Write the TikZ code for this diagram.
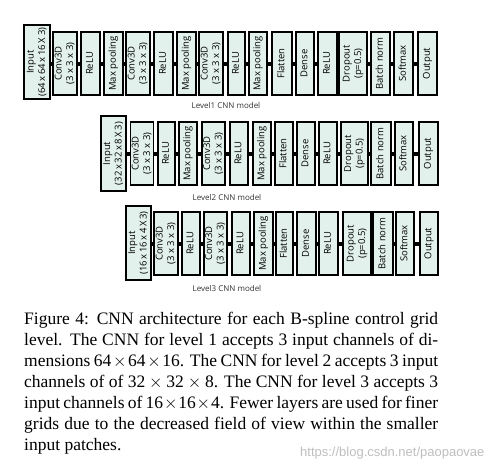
\documentclass[tikz,border=0pt]{standalone}
\usepackage{fontspec}
\setmainfont{Liberation Serif}
\newfontfamily\boxfont{Open Sans}
\newfontfamily\wmfont{Liberation Sans}
\definecolor{boxfill}{RGB}{226,241,236}
\tikzset{
  blk/.style={draw=black, line width=1.1pt, fill=boxfill, inner sep=0pt,
    font=\boxfont\fontsize{9.5}{11.5}\selectfont},
  conn/.style={line width=4pt, black},
  lvl/.style={font=\boxfont\fontsize{8}{9}\selectfont, text=black!80},
}
\newcommand\blk[6]{\node[blk, minimum width={(#3-#2)*1pt}, minimum height={(#5-#4)*1pt}] (#1) at ({(#2+#3)/2},{(#4+#5)/2}) {\rotatebox{90}{\begin{tabular}{@{}c@{}}#6\end{tabular}}};}
\begin{document}
\begin{tikzpicture}[x=1pt,y=-1pt]
\fill[white] (0,0) rectangle (493,472);
\useasboundingbox (0,0) rectangle (493,472);
% Level 1
\blk{ai}{24}{50}{25}{99}{Input\\(64\,x\,64\,x\,16\,X\,3)}
\blk{a1}{53}{77}{32}{95}{Conv3D\\(3 x 3 x 3)}
\blk{a2}{81}{100}{32}{95}{ReLU}
\blk{a3}{104}{123}{32}{95}{Max pooling}
\blk{a4}{126}{150}{32}{95}{Conv3D\\(3 x 3 x 3)}
\blk{a5}{154}{173}{32}{95}{ReLU}
\blk{a6}{177}{196}{32}{95}{Max pooling}
\blk{a7}{199}{223}{32}{95}{Conv3D\\(3 x 3 x 3)}
\blk{a8}{228}{245}{32}{95}{ReLU}
\blk{a9}{249}{267}{32}{95}{Max pooling}
\blk{a10}{272}{292}{32}{95}{Flatten}
\blk{a11}{296}{314}{32}{95}{Dense}
\blk{a12}{318}{337}{32}{95}{ReLU}
\blk{a13}{339}{367}{32}{95}{Dropout\\(p=0.5)}
\blk{a14}{371}{390}{32}{95}{Batch norm}
\blk{a15}{394}{413}{32}{95}{Softmax}
\blk{a16}{418}{437}{32}{95}{Output}
\draw[conn] (ai.east |- a1) -- (a1.west);
\foreach \p/\q in {a1/a2,a2/a3,a3/a4,a4/a5,a5/a6,a6/a7,a7/a8,a8/a9,a9/a10,a10/a11,a11/a12,a12/a13,a13/a14,a14/a15,a15/a16}
  \draw[conn] (\p) -- (\q);
\node[lvl] (l1) at (226,105) {Level1 CNN model};
% Level 2
\blk{bi}{101}{126}{116}{191}{Input\\(32\,x\,32\,x\,8\,X\,3)}
\blk{b1}{131}{153}{122}{185}{Conv3D\\(3 x 3 x 3)}
\blk{b2}{158}{175}{122}{185}{ReLU}
\blk{b3}{179}{197}{122}{185}{Max pooling}
\blk{b4}{202}{225}{122}{185}{Conv3D\\(3 x 3 x 3)}
\blk{b5}{230}{248}{122}{185}{ReLU}
\blk{b6}{253}{271}{122}{185}{Max pooling}
\blk{b7}{275}{293}{122}{185}{Flatten}
\blk{b8}{297}{315}{122}{185}{Dense}
\blk{b9}{319}{337}{122}{185}{ReLU}
\blk{b10}{341}{368}{122}{185}{Dropout\\(p=0.5)}
\blk{b11}{371}{391}{122}{185}{Batch norm}
\blk{b12}{395}{413}{122}{185}{Softmax}
\blk{b13}{419}{438}{122}{185}{Output}
\draw[conn] (bi.east |- b1) -- (b1.west);
\foreach \p/\q in {b1/b2,b2/b3,b3/b4,b4/b5,b5/b6,b6/b7,b7/b8,b8/b9,b9/b10,b10/b11,b11/b12,b12/b13}
  \draw[conn] (\p) -- (\q);
\node[lvl] (l2) at (227,197) {Level2 CNN model};
% Level 3
\blk{ci}{126}{151}{206}{280}{Input\\(16\,x\,16\,x\,4\,X\,3)}
\blk{c1}{154}{178}{212}{275}{Conv3D\\(3 x 3 x 3)}
\blk{c2}{182}{200}{212}{275}{ReLU}
\blk{c3}{204}{227}{212}{275}{Conv3D\\(3 x 3 x 3)}
\blk{c4}{232}{250}{212}{275}{ReLU}
\blk{c5}{254}{273}{212}{275}{Max pooling}
\blk{c6}{276}{293}{212}{275}{Flatten}
\blk{c7}{297}{316}{212}{275}{Dense}
\blk{c8}{319}{338}{212}{275}{ReLU}
\blk{c9}{343}{371}{212}{275}{Dropout\\(p=0.5)}
\blk{c10}{373}{393}{212}{275}{Batch norm}
\blk{c11}{396}{414}{212}{275}{Softmax}
\blk{c12}{420}{438}{212}{275}{Output}
\draw[conn] (ci.east |- c1) -- (c1.west);
\foreach \p/\q in {c1/c2,c2/c3,c3/c4,c4/c5,c5/c6,c6/c7,c7/c8,c8/c9,c9/c10,c10/c11,c11/c12}
  \draw[conn] (\p) -- (\q);
\node[lvl] (l3) at (227,288) {Level3 CNN model};
% Caption
\node[anchor=north west, inner sep=0pt, text width=414pt, align=justify,
  font=\fontsize{17.5}{21}\selectfont] (cap) at (24,312)
 {Figure 4: CNN architecture for each B-spline control grid\linebreak
  level. The CNN for level 1 accepts 3 input channels of di-\linebreak
  mensions $\mbox{64}\times\mbox{64}\times\mbox{16}$. The CNN for level 2 accepts 3 input\linebreak
  channels of of $\mbox{32}\times\mbox{32}\times\mbox{8}$. The CNN for level 3 accepts 3\linebreak
  input channels of $\mbox{16}\times\mbox{16}\times\mbox{4}$. Fewer layers are used for finer\linebreak
  grids due to the decreased field of view within the smaller\linebreak
  input patches.};
\node[font=\wmfont\fontsize{13}{13}\selectfont, text=black!25, anchor=east] (wm) at (488,453) {https://blog.csdn.net/paopaovae};
\end{tikzpicture}
\end{document}
